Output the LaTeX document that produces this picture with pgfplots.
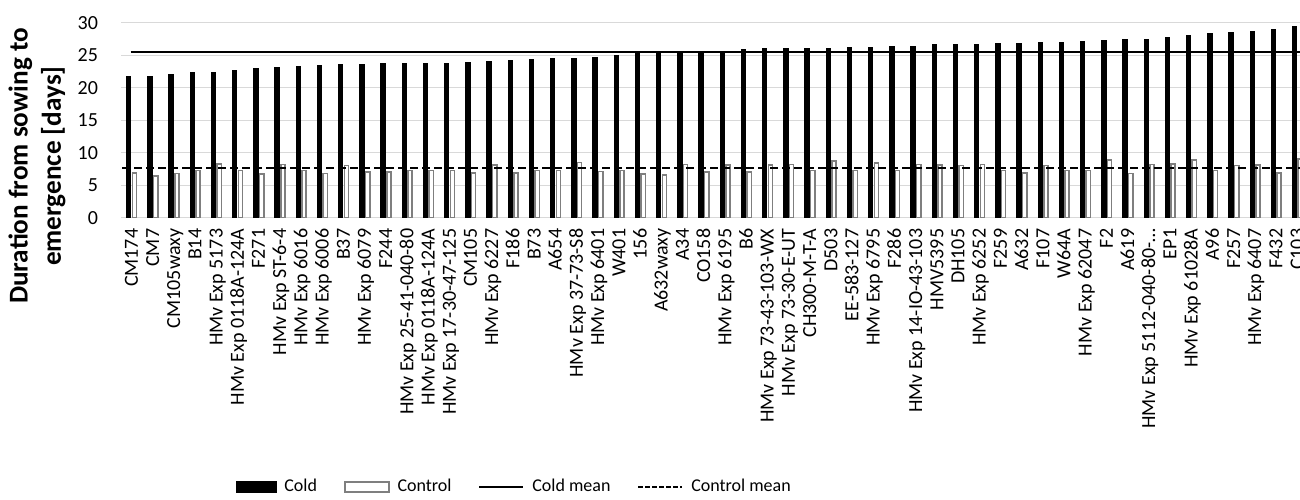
\documentclass[border=0pt]{standalone}
\usepackage{pgfplots}
\pgfplotsset{compat=1.18}
\usepackage{fontspec}
\setmainfont{Carlito}
\definecolor{gridgray}{HTML}{D9D9D9}
\definecolor{ctrlgray}{HTML}{7F7F7F}
\begin{document}
\begin{tikzpicture}[x=1pt,y=1pt]
\begin{axis}[
  at={(60.5pt,140.65pt)}, anchor=south west,
  scale only axis, width=593.5pt, height=97.5pt,
  xmin=-0.5, xmax=55.5, ymin=0, ymax=30,
  ytick={0,5,10,15,20,25,30},
  xtick={0,...,55},
  xticklabels={CM174,CM7,CM105waxy,B14,HMv Exp 5173,HMv Exp 0118A-124A,F271,HMv Exp ST-6-4,HMv Exp 6016,HMv Exp 6006,B37,HMv Exp 6079,F244,HMv Exp 25-41-040-80,HMv Exp 0118A-124A,HMv Exp 17-30-47-125,CM105,HMv Exp 6227,F186,B73,A654,HMv Exp 37-73-S8,HMv Exp 6401,W401,156,A632waxy,A34,CO158,HMv Exp 6195,B6,HMv Exp 73-43-103-WX,HMv Exp 73-30-E-UT,CH300-M-T-A,D503,EE-583-127,HMv Exp 6795,F286,HMv Exp 14-IO-43-103,HMV5395,DH105,HMv Exp 6252,F259,A632,F107,W64A,HMv Exp 62047,F2,A619,HMv Exp 5112-040-80-…,EP1,HMv Exp 61028A,A96,F257,HMv Exp 6407,F432,C103},
  /pgf/number format/assume math mode=true,
  tick style={draw=none},
  axis line style={draw=none},
  ymajorgrids, grid style={gridgray, line width=0.65pt},
  tick label style={font=\fontsize{10}{12}\selectfont},
  yticklabel style={xshift=-8pt},
  xticklabel style={yshift=-2pt, rotate=90, anchor=east, text height=1.6ex, text depth=0.3ex},
  ylabel={Duration from sowing to\\emergence [days]},
  ylabel style={at={(axis description cs:-0.0708,0.265)}, anchor=center, align=center, font=\bfseries\fontsize{13.6}{16.6}\selectfont},
  legend columns=4,
  legend style={at={(axis description cs:0.332,-1.381)}, anchor=center, draw=none, fill=none,
    font=\fontsize{9}{11}\selectfont,
    nodes={inner xsep=1.5pt},
    /tikz/every odd column/.append style={column sep=2.5pt},
    /tikz/every even column/.append style={column sep=12pt}},
  clip=true,
]
\addplot[ybar, bar width=2.2pt, bar shift=-1.4pt, fill=black, draw=black, line width=0pt,
  legend image code/.code={\fill[black] (0pt,-2.8pt) rectangle (20pt,2.8pt);}]
  coordinates {
(0,21.7)(1,21.8)(2,22.0)(3,22.3)(4,22.4)(5,22.7)(6,22.9)(7,23.1)(8,23.2)(9,23.4)
(10,23.5)(11,23.6)(12,23.7)(13,23.7)(14,23.7)(15,23.8)(16,23.9)(17,24.1)(18,24.2)(19,24.3)
(20,24.5)(21,24.5)(22,24.6)(23,24.9)(24,25.2)(25,25.3)(26,25.4)(27,25.4)(28,25.45)(29,25.9)
(30,26.0)(31,26.1)(32,26.1)(33,26.1)(34,26.15)(35,26.15)(36,26.3)(37,26.4)(38,26.6)(39,26.6)
(40,26.7)(41,26.8)(42,26.8)(43,26.9)(44,27.0)(45,27.15)(46,27.3)(47,27.35)(48,27.4)(49,27.7)
(50,28.1)(51,28.3)(52,28.5)(53,28.6)(54,29.0)(55,29.4)
  };
\addlegendentry{Cold}
\addplot[ybar, bar width=2.1pt, bar shift=1.45pt, fill=white, draw=ctrlgray, line width=0.75pt,
  legend image code/.code={\draw[ctrlgray, fill=white, line width=0.75pt] (0pt,-2.6pt) rectangle (22pt,2.6pt);}]
  coordinates {
(0,6.9)(1,6.4)(2,6.8)(3,7.3)(4,8.3)(5,7.3)(6,6.7)(7,8.2)(8,7.3)(9,6.8)
(10,8.0)(11,7.0)(12,7.0)(13,7.3)(14,7.3)(15,7.3)(16,6.9)(17,8.1)(18,6.9)(19,7.3)
(20,7.3)(21,8.5)(22,7.1)(23,7.3)(24,6.7)(25,6.6)(26,8.2)(27,7.0)(28,8.1)(29,7.0)
(30,8.1)(31,8.2)(32,7.3)(33,8.7)(34,7.3)(35,8.4)(36,7.3)(37,8.2)(38,8.1)(39,8.0)
(40,8.2)(41,7.3)(42,6.9)(43,8.0)(44,7.3)(45,7.3)(46,8.9)(47,6.8)(48,8.2)(49,8.3)
(50,8.9)(51,7.3)(52,8.0)(53,8.1)(54,6.9)(55,9.0)
  };
\addlegendentry{Control}
\addplot[black, line width=0.9pt, mark=none,
  legend image code/.code={\draw[black, line width=0.9pt] (0pt,0pt) -- (22pt,0pt);}]
  coordinates {(-0.05,25.5) (55.5,25.5)};
\addlegendentry{Cold mean}
\addplot[black, line width=0.9pt, mark=none, dash pattern=on 4pt off 2pt,
  legend image code/.code={\draw[black, line width=0.9pt, dash pattern=on 2.2pt off 1.3pt] (0pt,0pt) -- (22pt,0pt);}]
  coordinates {(-0.45,7.6) (55.5,7.6)};
\addlegendentry{Control mean}
\end{axis}
\pgfresetboundingbox
\path[use as bounding box] (0,0) rectangle (650,249.5);
\end{tikzpicture}
\end{document}
